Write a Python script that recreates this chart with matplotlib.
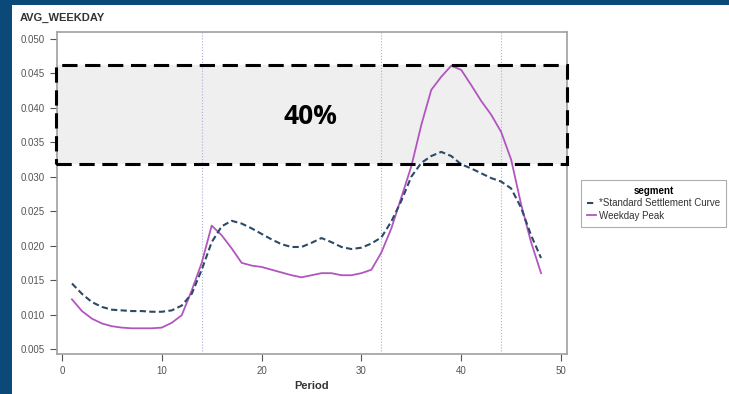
import matplotlib
matplotlib.use('Agg')
import matplotlib.pyplot as plt
from matplotlib.patches import Rectangle

# 데이터
periods = list(range(1, 49))
standard_curve = [0.0145, 0.0130, 0.0118, 0.0111, 0.0107, 0.0106, 0.0105, 0.0105,
                  0.0104, 0.0104, 0.0106, 0.0113, 0.0130, 0.0165, 0.0205, 0.0228,
                  0.0236, 0.0232, 0.0225, 0.0217, 0.0209, 0.0202, 0.0198, 0.0198,
                  0.0204, 0.0211, 0.0205, 0.0198, 0.0195, 0.0197, 0.0203, 0.0212,
                  0.0235, 0.0265, 0.0300, 0.0320, 0.0330, 0.0336, 0.0330, 0.0318,
                  0.0312, 0.0305, 0.0298, 0.0293, 0.0283, 0.0255, 0.0215, 0.0182]
weekday_peak = [0.0122, 0.0105, 0.0094, 0.0087, 0.0083, 0.0081, 0.0080, 0.0080,
                0.0080, 0.0081, 0.0088, 0.0099, 0.0135, 0.0175, 0.0229, 0.0215,
                0.0196, 0.0175, 0.0171, 0.0169, 0.0165, 0.0161, 0.0157, 0.0154,
                0.0157, 0.0160, 0.0160, 0.0157, 0.0157, 0.0160, 0.0165, 0.0190,
                0.0225, 0.0270, 0.0315, 0.0375, 0.0426, 0.0445, 0.0461, 0.0455,
                0.0433, 0.0410, 0.0390, 0.0365, 0.0325, 0.0260, 0.0205, 0.0160]
split_periods = [14, 32, 44]
band_low, band_high = 0.0319, 0.0462
band_label = '40%'
y_ticks = [0.005, 0.010, 0.015, 0.020, 0.025, 0.030, 0.035, 0.040, 0.045, 0.050]
x_ticks = [0, 10, 20, 30, 40, 50]

'''외양 설정'''
plt.rcParams['font.family'] = ['Liberation Sans', 'DejaVu Sans']
fig = plt.figure(figsize=(7.29, 3.94), dpi=100)
fig.patch.set_facecolor('#0b4a78')
# 흰 패널
fig.patches.append(Rectangle((12 / 729, 0), 1, 1 - 5 / 394, transform=fig.transFigure,
                             facecolor='white', edgecolor='none', zorder=-10))

ax = fig.add_axes([57 / 729, 1 - 354 / 394, 510 / 729, 322 / 394])
ax.set_zorder(1)
ax.set_facecolor('white')
ax.set_xlim(-0.5, 50.6)
ax.set_ylim(0.00427, 0.051)

# 점유 구간 박스
ax.add_patch(Rectangle((-0.6, band_low), 51.2, band_high - band_low,
                       facecolor='#efefef', edgecolor='none', zorder=1, clip_on=False))
ax.add_patch(Rectangle((-0.6, band_low), 51.2, band_high - band_low,
                       facecolor='none', edgecolor='black', lw=2.2,
                       linestyle=(0, (5, 2.5)), zorder=5, clip_on=False))

for p in split_periods:
    ax.axvline(p, color='#a8b0d0', lw=0.8, linestyle=':', zorder=2)

ax.plot(periods, standard_curve, color='#2c4a68', lw=1.5, linestyle=(0, (3, 1.6)),
        label='*Standard Settlement Curve', zorder=4)
ax.plot(periods, weekday_peak, color='#b255c0', lw=1.3, label='Weekday Peak', zorder=3)

ax.text(24.9, 0.0388, band_label, fontsize=19, fontweight='bold',
        family=['Open Sans', 'DejaVu Sans'], ha='center', va='center', zorder=6)

ax.set_yticks(y_ticks)
ax.set_yticklabels(['%.3f' % v for v in y_ticks])
ax.set_xticks(x_ticks)
ax.tick_params(axis='both', labelsize=7, colors='#555555', length=5, width=0.8)
for s in ax.spines.values():
    s.set_color('#a0a0a0')
    s.set_linewidth(1.2)

ax.set_xlabel('Period', fontsize=8, fontweight='bold', color='#333333', labelpad=4)
ax.xaxis.set_label_coords(0.5, -0.085)
fig.text(20 / 729, 1 - 18 / 394, 'AVG_WEEKDAY', fontsize=8, fontweight='bold',
         color='#333333', va='center', ha='left')

leg = ax.legend(loc='upper left', bbox_to_anchor=(581 / 729, 1 - 180 / 394),
                bbox_transform=fig.transFigure, title='segment', fontsize=7,
                title_fontproperties={'size': 7, 'weight': 'bold'},
                frameon=True, fancybox=False, handlelength=0.9, handletextpad=0.4,
                borderpad=0.6, labelspacing=0.25, borderaxespad=0)
leg.get_frame().set_edgecolor('#999999')
leg.get_frame().set_linewidth(0.8)
for t in leg.get_texts():
    t.set_color('#333333')

fig.savefig('out.png', dpi=100)
